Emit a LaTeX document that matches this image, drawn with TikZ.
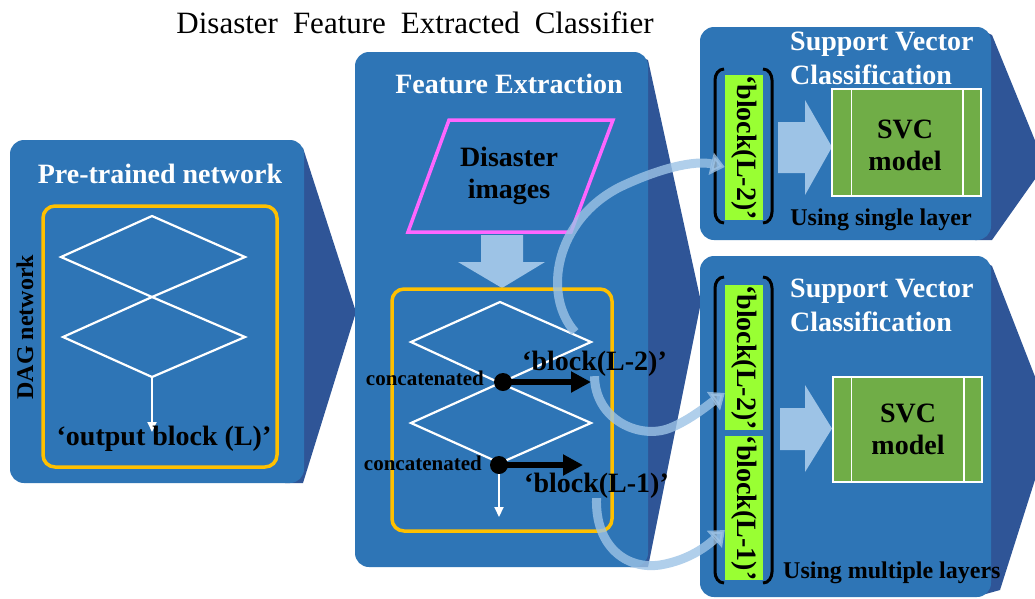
\documentclass[tikz,border=0pt]{standalone}
\usepackage{fontspec}
\setmainfont{Liberation Serif}
\usetikzlibrary{arrows.meta,calc}
\definecolor{pblue}{HTML}{2E75B6}
\definecolor{pdark}{HTML}{2F5597}
\definecolor{porange}{HTML}{FFC000}
\definecolor{pmag}{HTML}{FF66FF}
\definecolor{plime}{HTML}{99FF33}
\definecolor{pgreen}{HTML}{70AD47}
\definecolor{plight}{HTML}{9DC3E6}
\begin{document}
\begin{tikzpicture}[x=1pt,y=-1pt,
  pnl/.style={fill=pblue, rounded corners=14pt},
  chv/.style={fill=pdark},
  wtitle/.style={text=white, font=\bfseries\fontsize{28}{34}\selectfont, inner sep=0pt},
  btext/.style={text=black, font=\bfseries\fontsize{28}{32}\selectfont, inner sep=0pt},
  stext/.style={text=black, font=\bfseries\fontsize{24}{28}\selectfont, inner sep=0pt},
  ctext/.style={text=black, font=\bfseries\fontsize{21}{24}\selectfont, inner sep=0pt},
  oframe/.style={draw=porange, line width=3.5pt, rounded corners=12pt},
  dagline/.style={draw=white, line width=2.2pt, line join=miter},
  warrow/.style={draw=white, line width=2pt, -{Triangle[width=9pt,length=10pt]}},
  karrow/.style={draw=black, line width=6pt, -{Triangle[width=20pt,length=20pt]}},
  blockarrow/.style={fill=plight},
  curvearrow/.style={draw=plight, opacity=0.8, line width=9pt, -{Triangle[width=22pt,length=14pt]}},
  limebox/.style={btext, fill=plime, rotate=-90, minimum height=38pt},
  svcbox/.style={fill=pgreen, draw=white, line width=1.5pt, inner sep=0pt},
  brk/.style={draw=black, line width=3pt},
  blackdot/.style={circle, fill=black, minimum size=18pt, inner sep=0pt}
]
\useasboundingbox (0,0) rectangle (1035,598);
\clip (0,0) rectangle (1035,598);
\fill[white] (0,0) rectangle (1035,598);

% title
\node[inner sep=0pt, anchor=base, font={\fontsize{31}{36}\selectfont\spaceskip=15pt\relax}] (title) at (415,33) {Disaster Feature Extracted Classifier};

% ---------- panel 1 ----------
\fill[chv] (285,140) -- (303,148) -- (356,312) -- (303,483) -- (285,483) -- cycle;
\fill[pnl] (10,140) rectangle (304,483);
\node[wtitle, anchor=base] (t1) at (160,183) {Pre-trained network};
\draw[oframe] (43,206) rectangle (277,467);
\draw[dagline] (152,216) -- (245,257) -- (152,297) -- (61,257) -- cycle;
\draw[dagline] (152,297) -- (245,337) -- (152,377) -- (63,337) -- cycle;
\coordinate (p1bot) at (152,377);
\coordinate (p1end) at (152,432);
\draw[warrow] (p1bot) -- (p1end);
\node[btext, anchor=base] (outb) at (164,445) {‘output block (L)’};
\node[text=black, font=\bfseries\fontsize{24}{28}\selectfont, inner sep=0pt, rotate=90] (dag) at (25,327) {DAG network};

% ---------- panel 2 ----------
\fill[chv] (630,53) -- (648,60) -- (701,302) -- (648,567) -- (630,567) -- cycle;
\fill[pnl] (355,52) rectangle (648,567);
\node[wtitle, anchor=base] (t2) at (509,93) {Feature Extraction};
\draw[pmag, line width=3.5pt] (449,120) -- (613,120) -- (571,232) -- (408,232) -- cycle;
\node[btext, align=center, anchor=north] (dimg) at (509,147) {Disaster\\images};
\fill[blockarrow] (481,235) -- (523,235) -- (523,262) -- (545,262) -- (502,288) -- (458,262) -- (481,262) -- cycle;
\draw[oframe] (392,289) rectangle (612,531);
\draw[dagline] (500,302) -- (591,342) -- (500,383) -- (411,342) -- cycle;
\draw[dagline] (500,383) -- (591,423) -- (500,463) -- (411,423) -- cycle;
\node[blackdot] (d1) at (503,382) {};
\node[blackdot] (d2) at (499,465) {};
\coordinate (e1) at (591,382);
\coordinate (e2) at (583,465);
\draw[karrow] (d1.center) -- (e1);
\draw[karrow] (d2.center) -- (e2);
\coordinate (w2) at (499,517);
\draw[warrow] (d2.south) -- (w2);
\node[ctext, anchor=base east] (c1) at (484,385) {concatenated};
\node[ctext, anchor=base east] (c2) at (482,470) {concatenated};
\node[btext, anchor=base west] (lb2) at (522,370) {‘block(L-2)’};
\node[btext, anchor=base west] (lb1) at (524,492) {‘block(L-1)’};

% ---------- panel 3 ----------
\fill[chv] (975,27) -- (992,35) -- (1045,165) -- (992,240) -- (975,240) -- cycle;
\fill[pnl] (700,27) rectangle (991,240);
\node[wtitle, align=left, anchor=north west] (t3) at (790,32) {Support Vector\\Classification};
\draw[brk] (724,69) to[out=180,in=90] (715,80) -- (715,212) to[out=-90,in=180] (724,223);
\draw[brk] (763,69) to[out=0,in=90] (772,80) -- (772,212) to[out=-90,in=0] (763,223);
\node[limebox, minimum width=139pt] (g1) at (744,147.5) {‘block(L-2)’};
\fill[blockarrow] (778,122) -- (805,122) -- (805,100) -- (832,147) -- (805,195) -- (805,173) -- (778,173) -- cycle;
\node[svcbox, minimum width=149pt, minimum height=107pt] (svc1) at (906.5,142.5) {};
\draw[white, line width=1.5pt] ([xshift=20pt]svc1.north west) -- ([xshift=20pt]svc1.south west);
\draw[white, line width=1.5pt] ([xshift=-19pt]svc1.north east) -- ([xshift=-19pt]svc1.south east);
\node[btext, align=center] (svct1) at (905,145) {SVC\\model};
\node[stext, anchor=base] (u1) at (881,225) {Using single layer};

% ---------- panel 4 ----------
\fill[chv] (975,256) -- (992,266) -- (1053,423) -- (1000,590) -- (975,597) -- cycle;
\fill[pnl] (700,256) rectangle (991,597);
\node[wtitle, align=left, anchor=north west] (t4) at (790,279) {Support Vector\\Classification};
\draw[brk] (724,277) to[out=180,in=90] (715,288) -- (715,572) to[out=-90,in=180] (724,583);
\draw[brk] (763,277) to[out=0,in=90] (772,288) -- (772,572) to[out=-90,in=0] (763,583);
\node[limebox, minimum width=141pt] (g2) at (744,357.5) {‘block(L-2)’};
\node[limebox, minimum width=140pt] (g3) at (744,508) {‘block(L-1)’};
\fill[blockarrow] (780,408) -- (805,408) -- (805,385) -- (832,428.5) -- (805,472) -- (805,450) -- (780,450) -- cycle;
\node[svcbox, minimum width=149pt, minimum height=105pt] (svc2) at (907.5,429.5) {};
\draw[white, line width=1.5pt] ([xshift=19pt]svc2.north west) -- ([xshift=19pt]svc2.south west);
\draw[white, line width=1.5pt] ([xshift=-19pt]svc2.north east) -- ([xshift=-19pt]svc2.south east);
\node[btext, align=center] (svct2) at (908,429.5) {SVC\\model};
\node[stext, anchor=base west] (u2) at (783,578) {Using multiple layers};

% ---------- curved arrows ----------
\coordinate (a1start) at (575,332);
\draw[curvearrow] (a1start) .. controls (542,295) and (555,220) .. (620,187) .. controls (660,168) and (695,160) .. ([yshift=-19.5pt]g1.south);
\draw[curvearrow] (lb2.south) .. controls (595,420) and (640,440) .. (670,428) .. controls (690,420) and (708,405) .. ([yshift=-35.5pt]g2.south);
\draw[curvearrow] (lb1.south) .. controls (595,545) and (625,570) .. (660,565) .. controls (690,560) and (708,545) .. ([yshift=-22pt]g3.south);
\end{tikzpicture}
\end{document}
